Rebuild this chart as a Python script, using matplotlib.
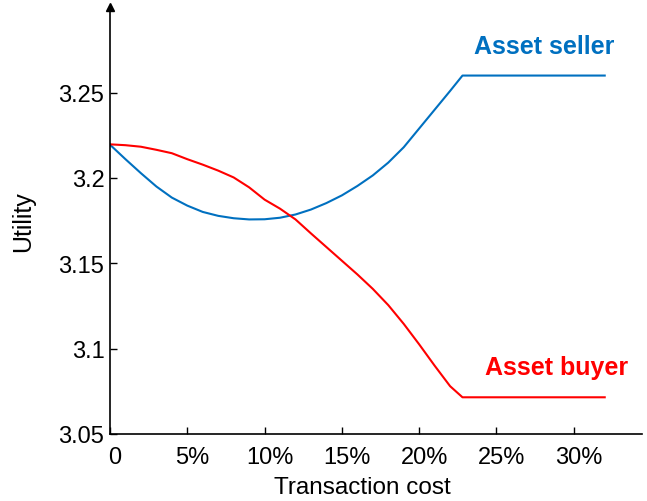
import matplotlib
matplotlib.use("Agg")
import matplotlib.pyplot as plt
import matplotlib.transforms as mtransforms

plt.rcParams['font.family'] = ['Liberation Sans', 'DejaVu Sans']

# Transaction cost (%) and utilities
cost = [0, 1, 2, 3, 4, 5, 6, 7, 8, 9, 10, 11, 12, 13, 14, 15, 16, 17,
        18, 19, 20, 21, 22, 22.8, 32]
seller = [3.2195, 3.2110, 3.2028, 3.1950, 3.1885, 3.1838, 3.1801, 3.1778,
          3.1764, 3.1757, 3.1758, 3.1767, 3.1786, 3.1815, 3.1853, 3.1898,
          3.1953, 3.2015, 3.2090, 3.2180, 3.2290, 3.2400, 3.2510, 3.2600,
          3.2600]
buyer = [3.2197, 3.2192, 3.2183, 3.2165, 3.2145, 3.2110, 3.2078, 3.2043,
         3.2003, 3.1945, 3.1873, 3.1820, 3.1757, 3.1675, 3.1595, 3.1515,
         3.1435, 3.1350, 3.1255, 3.1145, 3.1025, 3.0900, 3.0780, 3.0715,
         3.0715]

xticks = [0, 5, 10, 15, 20, 25, 30]
xticklabels = ["0", "5%", "10%", "15%", "20%", "25%", "30%"]
yticks = [3.05, 3.1, 3.15, 3.2, 3.25]
yticklabels = ["3.05", "3.1", "3.15", "3.2", "3.25"]

blue = "#0070C0"
red = "#FF0000"

fig = plt.figure(figsize=(6.47, 5.02), dpi=100)
ax = fig.add_axes([0.170, 0.1335, 0.822, 0.850])

ax.plot(cost, seller, color=blue, lw=1.5)
ax.plot(cost, buyer, color=red, lw=1.5)

ax.set_xlim(0, 34.4)
ax.set_ylim(3.05, 3.30)

for s in ["top", "right"]:
    ax.spines[s].set_visible(False)
for s in ["left", "bottom"]:
    ax.spines[s].set_linewidth(1.2)

ax.plot(1, 0, ">k", markersize=6, transform=ax.get_yaxis_transform(), clip_on=False)
ax.plot(0, 1, "^k", markersize=6, transform=ax.get_xaxis_transform(), clip_on=False)

ax.set_xticks(xticks)
ax.set_xticklabels(xticklabels)
ax.set_yticks(yticks)
ax.set_yticklabels(yticklabels)
ax.tick_params(direction="in", length=5, width=1, labelsize=17)
ax.tick_params(axis="x", pad=9)
ax.tick_params(axis="y", pad=4)

shift = mtransforms.ScaledTranslation(5 / 100, 0, fig.dpi_scale_trans)
for lab in ax.get_xticklabels():
    lab.set_transform(lab.get_transform() + shift)

ax.set_xlabel("Transaction cost", fontsize=17.5)
ax.xaxis.set_label_coords(0.474, -0.098)
ax.set_ylabel("Utility", fontsize=18, labelpad=17)

ax.text(28.1, 3.2773, "Asset seller", color=blue, fontsize=18,
        fontweight="bold", ha="center", va="center")
ax.text(28.9, 3.089, "Asset buyer", color=red, fontsize=18,
        fontweight="bold", ha="center", va="center")

fig.savefig("out.png", dpi=100)
